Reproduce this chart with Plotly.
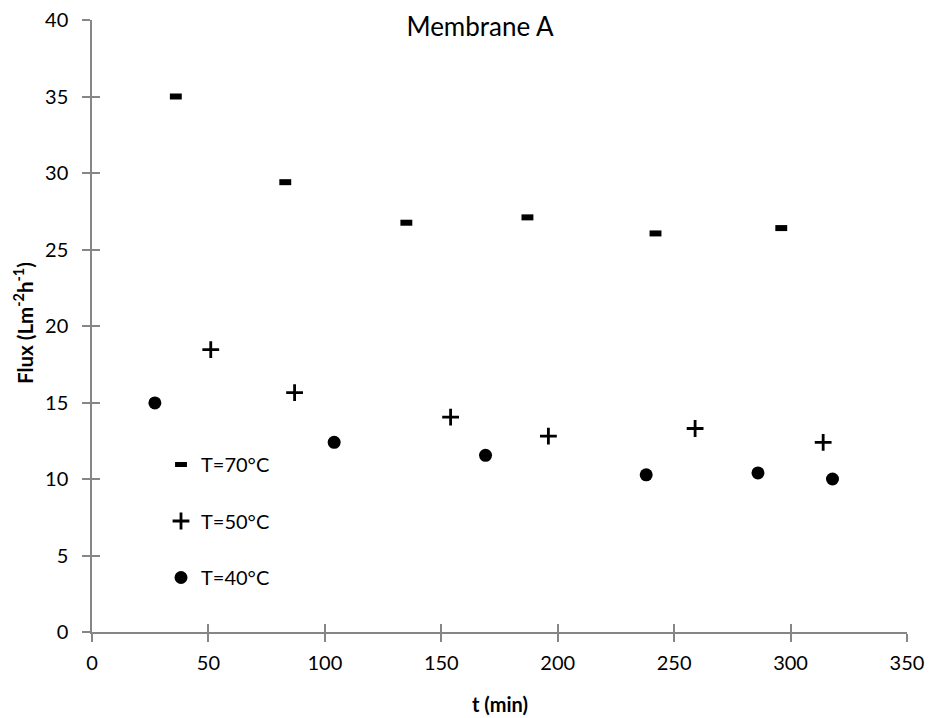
import plotly.graph_objects as go

t70 = [36, 83, 135, 187, 242, 296]
f70 = [35.0, 29.4, 26.75, 27.1, 26.05, 26.4]
t50 = [51, 87, 154, 196, 259, 314]
f50 = [18.45, 15.65, 14.05, 12.8, 13.3, 12.4]
t40 = [27, 104, 169, 238, 286, 318]
f40 = [14.97, 12.4, 11.55, 10.27, 10.4, 10.0]

x_ticks = [0, 50, 100, 150, 200, 250, 300, 350]
y_ticks = [0, 5, 10, 15, 20, 25, 30, 35, 40]

FONT = "Lato"
AX = "#868686"
W, H = 931, 718
L, R, T, B = 92, 24, 20, 86

fig = go.Figure()
fig.add_trace(go.Scatter(x=t70, y=f70, mode="markers", name="T=70°C", legendgroup="a",
                         marker=dict(symbol="line-ew", size=8.5, color="black",
                                     line=dict(color="black", width=6))))
fig.add_trace(go.Scatter(x=t50, y=f50, mode="markers", name="T=50°C", legendgroup="b",
                         marker=dict(symbol="cross-thin", size=12, color="black",
                                     line=dict(color="black", width=2.8))))
fig.add_trace(go.Scatter(x=t40, y=f40, mode="markers", name="T=40°C", legendgroup="c",
                         marker=dict(symbol="circle", size=13, color="black")))
fig.add_trace(go.Scatter(x=[None], y=[None], xaxis="x2", yaxis="y2", showlegend=False,
                         hoverinfo="skip"))

axcommon = dict(showgrid=False, zeroline=False, linecolor=AX, linewidth=1.5,
                tickcolor=AX, tickwidth=1.5, ticklen=8, automargin=False,
                tickfont=dict(family=FONT, size=20, color="black"))

pw = W - L - R
ph = H - T - B

fig.update_layout(
    width=W, height=H,
    margin=dict(l=L, r=R, t=T, b=B, autoexpand=False),
    paper_bgcolor="white", plot_bgcolor="white",
    font=dict(family=FONT, color="black"),
    title=dict(text="Membrane A", x=480/W, xanchor="center", y=1-27/H, yanchor="middle",
               font=dict(family=FONT, size=26, color="black"), automargin=False),
    xaxis=dict(range=[0, 350], tickvals=x_ticks, ticks="outside", showline=True,
               ticklabelstandoff=4, **axcommon),
    yaxis=dict(range=[0, 40], tickvals=y_ticks, ticks="outside", showline=True,
               ticklabelstandoff=10, **axcommon),
    xaxis2=dict(range=[0, 350], tickvals=x_ticks, ticks="inside", overlaying="x", anchor="y2",
                showticklabels=False, showgrid=False, zeroline=False, showline=False,
                tickcolor=AX, tickwidth=1.5, ticklen=8),
    yaxis2=dict(range=[0, 40], tickvals=y_ticks, ticks="inside", overlaying="y", anchor="x2",
                showticklabels=False, showgrid=False, zeroline=False, showline=False,
                tickcolor=AX, tickwidth=1.5, ticklen=8),
    legend=dict(x=(161-92)/pw, xanchor="left", y=(632-445)/ph, yanchor="top",
                bgcolor="rgba(0,0,0,0)", tracegroupgap=27.5,
                font=dict(family=FONT, size=20, color="black")),
    showlegend=True,
    annotations=[
        dict(text="<b>t (min)</b>", xref="paper", yref="paper",
             x=(500-L)/pw, y=(H-B-704)/ph, xanchor="center", yanchor="middle",
             showarrow=False, font=dict(family=FONT, size=20, color="black")),
        dict(text="<b>Flux (Lm<sup>-2</sup>h<sup>-1</sup>)</b>", xref="paper", yref="paper",
             x=(23-L)/pw, y=(H-B-323)/ph, xanchor="center", yanchor="middle", textangle=-90,
             showarrow=False, font=dict(family=FONT, size=20.5, color="black")),
    ],
)

fig.write_html("out.html")
